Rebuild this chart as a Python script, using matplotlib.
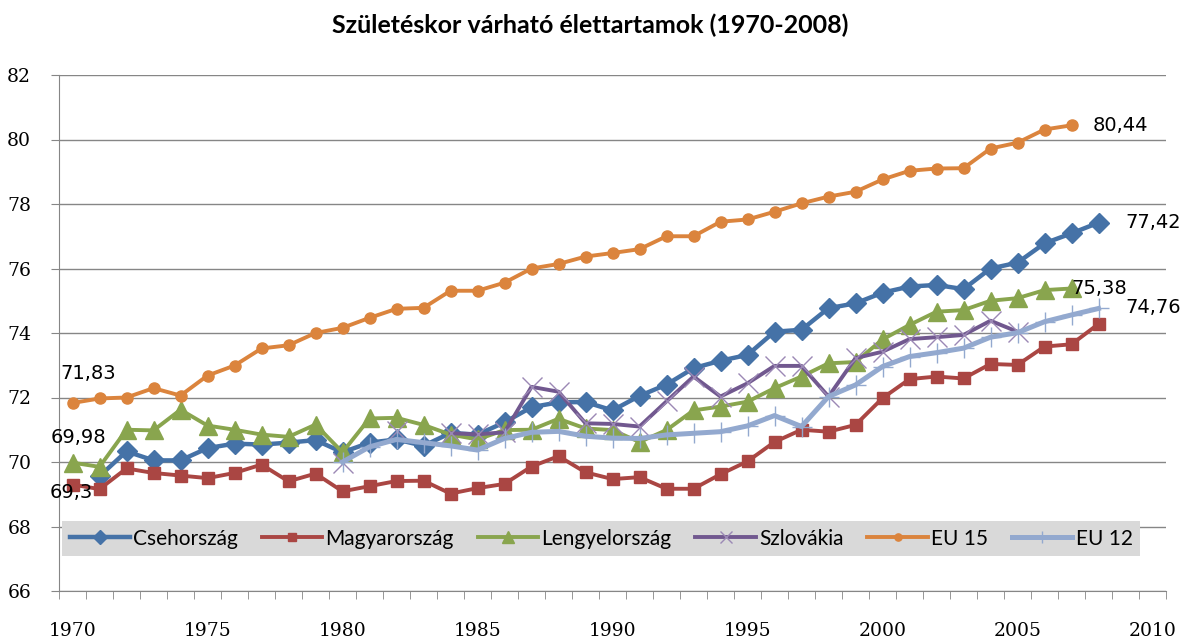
import matplotlib
matplotlib.use('Agg')
import matplotlib.pyplot as plt
import numpy as np

nan = np.nan
years = list(range(1970, 2009))

cseh = [nan, 69.56, 70.33, 70.05, 70.05, 70.43, 70.57, 70.54, 70.60, 70.68,
        70.30, 70.60, 70.70, 70.50, 70.90, 70.85, 71.23, 71.70, 71.85, 71.86,
        71.60, 72.05, 72.40, 72.91, 73.14, 73.32, 74.04, 74.10, 74.77, 74.92,
        75.25, 75.44, 75.49, 75.36, 76.00, 76.18, 76.78, 77.09, 77.42]
magyar = [69.30, 69.16, 69.80, 69.66, 69.58, 69.50, 69.66, 69.92, 69.40, 69.64,
          69.09, 69.25, 69.41, 69.42, 69.02, 69.19, 69.32, 69.86, 70.18, 69.68,
          69.47, 69.53, 69.17, 69.17, 69.62, 70.02, 70.62, 71.00, 70.94, 71.15,
          71.98, 72.57, 72.65, 72.59, 73.04, 73.01, 73.58, 73.65, 74.28]
lengyel = [69.98, 69.85, 71.00, 70.98, 71.62, 71.13, 71.00, 70.85, 70.78, 71.16,
           70.30, 71.35, 71.37, 71.15, 70.85, 70.70, 70.99, 71.00, 71.34, 71.04,
           70.99, 70.62, 70.99, 71.60, 71.72, 71.87, 72.29, 72.65, 73.06, 73.10,
           73.80, 74.25, 74.66, 74.71, 75.00, 75.08, 75.33, 75.38, nan]
szlovakia = [nan, nan, nan, nan, nan, nan, nan, nan, nan, nan,
             69.97, nan, 70.95, nan, 70.89, 70.86, 70.92, 72.33, 72.18, 71.20,
             71.18, 71.10, 71.88, 72.65, 72.03, 72.44, 72.98, 72.98, 72.03, 73.22,
             73.42, 73.81, 73.87, 73.94, 74.38, 74.04, nan, nan, nan]
eu15 = [71.83, 71.97, 72.00, 72.29, 72.06, 72.68, 72.99, 73.52, 73.62, 74.00,
        74.16, 74.47, 74.75, 74.78, 75.31, 75.31, 75.56, 76.00, 76.14, 76.37,
        76.48, 76.60, 77.00, 77.00, 77.45, 77.52, 77.76, 78.02, 78.23, 78.38,
        78.76, 79.03, 79.10, 79.11, 79.72, 79.90, 80.31, 80.44, nan]
eu12 = [nan, nan, nan, nan, nan, nan, nan, nan, nan, nan,
        70.00, 70.47, 70.70, 70.60, 70.50, 70.37, 70.73, 70.92, 70.95, 70.80,
        70.74, 70.73, 70.84, 70.89, 70.94, 71.12, 71.44, 71.10, 72.03, 72.39,
        72.96, 73.27, 73.39, 73.53, 73.87, 74.01, 74.35, 74.56, 74.76]

fig = plt.figure(figsize=(11.81, 6.39), dpi=100)
ax = fig.add_axes([59/1181, 1 - 591/639, 1107/1181, 516/639])

ax.plot(years, cseh, color='#4572A7', lw=3.2, marker='D', ms=10.5, label='Csehország')
ax.plot(years, magyar, color='#AA4643', lw=2.8, marker='s', ms=9, label='Magyarország')
ax.plot(years, lengyel, color='#89A54E', lw=2.8, marker='^', ms=13, label='Lengyelország')
ax.plot(years, szlovakia, color='#71588F', lw=2.8, marker='x', ms=14, mew=1.0,
        mec='#9b88b5', label='Szlovákia')
ax.plot(years, eu15, color='#DB843D', lw=2.8, marker='o', ms=8, label='EU 15')
ax.plot(years, eu12, color='#93A9CF', lw=3.6, marker='+', ms=14, mew=1.0, label='EU 12')

lab = dict(fontsize=14, family='DejaVu Sans', textcoords='offset points')
ax.annotate('71,83', (1970, eu15[0]), xytext=(11, 21), ha='center', va='center', **lab)
ax.annotate('69,98', (1970, lengyel[0]), xytext=(4, 18), ha='center', va='center', **lab)
ax.annotate('69,3', (1970, magyar[0]), xytext=(-1, -6), ha='center', va='center', **lab)
ax.annotate('80,44', (2007, eu15[-2]), xytext=(15, 0), ha='left', va='center', **lab)
ax.annotate('77,42', (2008, cseh[-1]), xytext=(19, 0), ha='left', va='center', **lab)
ax.annotate('75,38', (2007, lengyel[-2]), xytext=(0, 0), ha='left', va='center', **lab)
ax.annotate('74,76', (2008, eu12[-1]), xytext=(19, 1), ha='left', va='center', **lab)

ax.set_xlim(1969.5, 2010.5)
ax.set_ylim(66, 82)
ax.set_yticks(np.arange(66, 83, 2))
ax.set_xticks(np.arange(1970, 2011, 5))
ax.set_xticks(np.arange(1969.5, 2011, 1), minor=True)
ax.tick_params(axis='x', which='major', length=0, pad=22)
ax.tick_params(axis='x', which='minor', length=6, color='#868686')
ax.tick_params(axis='y', length=6, color='#868686', pad=14)
for t in ax.get_xticklabels() + ax.get_yticklabels():
    t.set_family('DejaVu Serif')
    t.set_fontsize(13.5)

ax.grid(True, axis='y', color='#868686', lw=1)
ax.set_axisbelow(True)
for s in ['top', 'right']:
    ax.spines[s].set_visible(False)
for s in ['left', 'bottom']:
    ax.spines[s].set_color('#868686')

leg = ax.legend(ncol=6, loc='lower left', bbox_to_anchor=(0.003, 0.068),
                borderaxespad=0, frameon=True, fancybox=False,
                facecolor='#d9d9d9', edgecolor='none', framealpha=1,
                handlelength=2.9, handletextpad=0.15, columnspacing=1.15,
                borderpad=0.35, markerscale=0.65,
                prop={'family': 'Lato', 'size': 15})

fig.text(0.5, 1 - 25/639, 'Születéskor várható élettartamok (1970-2008)',
         ha='center', va='center', fontsize=18, fontweight='bold', family='Lato')

plt.savefig('out.png', dpi=100)
